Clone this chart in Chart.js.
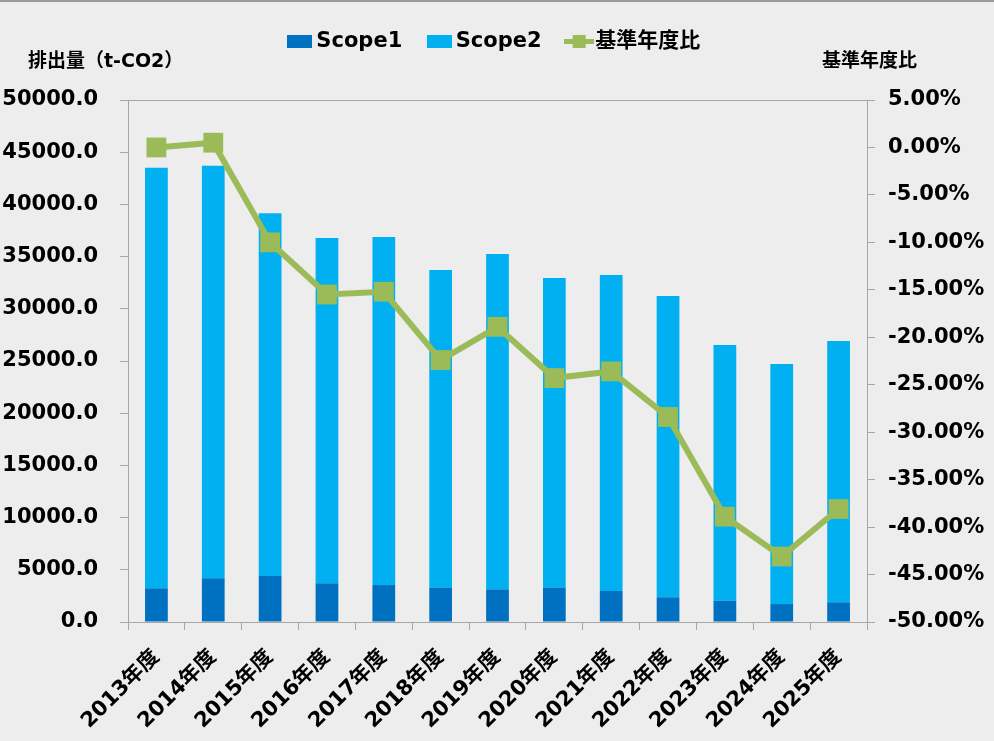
<!DOCTYPE html>
<html>
<head>
<meta charset="utf-8">
<script src="https://cdn.jsdelivr.net/npm/chart.js@4.4.0/dist/chart.umd.min.js"></script>
<style>
  html, body { margin: 0; padding: 0; background: #ededed; }
  #wrap { width: 994px; height: 741px; }
</style>
</head>
<body>
<div id="wrap"><canvas id="chart" width="994" height="741"></canvas></div>
<script>
// fiscal years on the x axis
const years = ['2013年度', '2014年度', '2015年度', '2016年度', '2017年度', '2018年度', '2019年度',
               '2020年度', '2021年度', '2022年度', '2023年度', '2024年度', '2025年度'];
// emissions in t-CO2
const scope1 = [3230, 4190, 4400, 3710, 3540, 3290, 3130, 3290, 2970, 2370, 2040, 1720, 1890];
const scope2 = [40270, 39510, 34750, 33070, 33340, 30430, 32120, 29660, 30270, 28860, 24490, 22990, 25030];
// change vs. base year (%)
const baseRatio = [0.0, 0.5, -10.0, -15.5, -15.2, -22.4, -18.9, -24.3, -23.6, -28.4, -38.9, -43.1, -38.1];

const seriesNames = ['Scope1', 'Scope2', '基準年度比'];
const leftTitle = '排出量（t-CO2）';
const rightTitle = '基準年度比';

const FONT = "'DejaVu Sans', 'Noto Sans CJK JP', sans-serif";
const C_S1 = '#0070C0';
const C_S2 = '#00B0F0';
const C_LINE = '#9BBB59';
const C_AXIS = '#a6a6a6';

function boxIcon(color) {
    const c = document.createElement('canvas');
    c.width = 25; c.height = 13;
    const g = c.getContext('2d');
    g.fillStyle = color;
    g.fillRect(0, 0, 25, 13);
    return c;
}

function lineIcon(color) {
    const c = document.createElement('canvas');
    c.width = 30; c.height = 13;
    const g = c.getContext('2d');
    g.fillStyle = color;
    g.fillRect(0, 4, 30, 5);
    g.fillRect(9, 0, 13, 13);
    return c;
}

const legendIcons = [boxIcon(C_S1), boxIcon(C_S2), lineIcon(C_LINE)];

// plain background and the thin frame line along the top
const backdrop = {
    id: 'backdrop',
    beforeDraw(chart) {
        const ctx = chart.ctx;
        ctx.save();
        ctx.fillStyle = '#ededed';
        ctx.fillRect(0, 0, chart.width, chart.height);
        ctx.fillStyle = '#9a9a9a';
        ctx.fillRect(0, 0, chart.width, 2);
        ctx.restore();
    }
};

// axis captions above each value axis
const axisCaptions = {
    id: 'axisCaptions',
    afterDraw(chart) {
        const ctx = chart.ctx;
        ctx.save();
        ctx.font = 'bold 19px ' + FONT;
        ctx.fillStyle = '#000';
        ctx.textBaseline = 'middle';
        ctx.textAlign = 'left';
        ctx.fillText(leftTitle, 28, 62);
        ctx.fillText(rightTitle, 822, 62);
        ctx.restore();
    }
};

const ctx = document.getElementById('chart').getContext('2d');
const chart = new Chart(ctx, {
    type: 'bar',
    data: {
        labels: years,
        datasets: [{
            label: seriesNames[0],
            data: scope1,
            backgroundColor: C_S1,
            stack: 'em',
            yAxisID: 'y',
            order: 1
        }, {
            label: seriesNames[1],
            data: scope2,
            backgroundColor: C_S2,
            stack: 'em',
            yAxisID: 'y',
            order: 1
        }, {
            type: 'line',
            label: seriesNames[2],
            data: baseRatio,
            borderColor: C_LINE,
            backgroundColor: C_LINE,
            borderWidth: 6,
            pointStyle: 'rect',
            pointRadius: 14,
            pointBorderWidth: 0,
            pointBackgroundColor: C_LINE,
            tension: 0,
            yAxisID: 'y2',
            order: 0
        }]
    },
    options: {
        responsive: false,
        animation: false,
        devicePixelRatio: 1,
        layout: { padding: 0 },
        datasets: {
            bar: { categoryPercentage: 1, barPercentage: 0.4 }
        },
        plugins: {
            legend: {
                position: 'top',
                labels: {
                    usePointStyle: true,
                    boxWidth: 12,
                    boxHeight: 14,
                    padding: 31,
                    color: '#000',
                    font: { family: FONT, size: 21, weight: 'bold' },
                    generateLabels(chart) {
                        const items = Chart.defaults.plugins.legend.labels.generateLabels(chart);
                        items.forEach((it) => { it.pointStyle = legendIcons[it.datasetIndex]; });
                        return items;
                    },
                    sort: (a, b) => a.datasetIndex - b.datasetIndex
                }
            },
            // empty title used only as a spacer between legend and plot
            title: {
                display: true,
                text: '',
                weight: 500,
                font: { size: 10 },
                padding: { top: 0, bottom: 26 }
            },
            tooltip: { enabled: false }
        },
        scales: {
            x: {
                stacked: true,
                border: { display: true, color: C_AXIS, width: 1 },
                grid: {
                    offset: true,
                    drawOnChartArea: false,
                    drawTicks: true,
                    tickLength: 8,
                    tickColor: C_AXIS
                },
                ticks: {
                    color: '#000',
                    font: { family: FONT, size: 21, weight: 'bold' },
                    minRotation: 45,
                    maxRotation: 45,
                    padding: 15,
                    autoSkip: false
                },
                afterFit(scale) { scale.height = 119; }
            },
            y: {
                stacked: true,
                position: 'left',
                min: 0,
                max: 50000,
                border: { display: true, color: C_AXIS, width: 1 },
                grid: {
                    drawOnChartArea: true,
                    color: (c) => (c.tick && c.tick.value === 50000) ? C_AXIS : 'rgba(0,0,0,0)',
                    tickColor: C_AXIS,
                    tickLength: 8
                },
                ticks: {
                    stepSize: 5000,
                    padding: 22,
                    color: '#000',
                    font: { family: FONT, size: 21, weight: 'bold' },
                    callback: (v) => Number(v).toFixed(1)
                },
                afterFit(scale) { scale.width = 128; }
            },
            y2: {
                position: 'right',
                min: -50,
                max: 5,
                border: { display: true, color: C_AXIS, width: 1 },
                grid: {
                    drawOnChartArea: false,
                    tickColor: C_AXIS,
                    tickLength: 8
                },
                ticks: {
                    stepSize: 5,
                    padding: 13,
                    color: '#000',
                    font: { family: FONT, size: 21, weight: 'bold' },
                    callback: (v) => Number(v).toFixed(2) + '%'
                },
                afterFit(scale) { scale.width = 127; }
            }
        }
    },
    plugins: [backdrop, axisCaptions]
});
</script>
</body>
</html>
